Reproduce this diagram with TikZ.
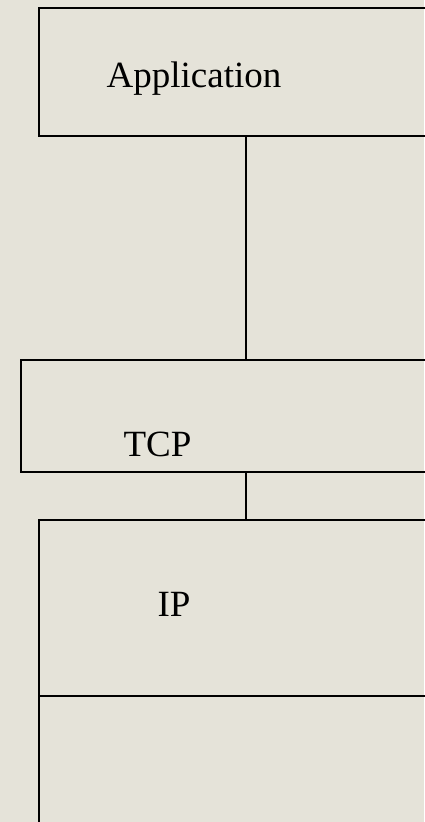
\documentclass[tikz,border=0pt]{standalone}
\usepackage{fontspec}
\setmainfont{Liberation Serif}
\definecolor{paper}{RGB}{229,227,217}
\tikzset{
  layer/.style={draw=black,line width=1.6pt,fill=none,inner sep=0pt,anchor=north west,minimum width=430pt},
  layertext/.style={anchor=base,inner sep=0pt,font=\fontsize{37}{40}\selectfont}
}
\begin{document}
\begin{tikzpicture}[x=1pt,y=-1pt]
\fill [paper] (0,0) rectangle (424,822);
\useasboundingbox (0,0) rectangle (424,822);
% the stack
\node [layer,minimum height=128pt] (app) at (38,7) {};
\node [layer,minimum height=112pt] (tcp) at (20.3,359.3) {};
\node [layer,minimum height=176pt] (ip) at (38,519.3) {};
\node [layer,minimum height=160pt] (link) at (38,695.3) {};
\node [layertext] (apptext) at (194,87) {Application};
\node [layertext] (tcptext) at (157.5,456) {TCP};
\node [layertext] (iptext) at (174,616) {IP};
% joins
\coordinate (mid) at (246,0);
\draw [line width=1.6pt] (app.south -| mid) -- (tcp.north -| mid);
\draw [line width=1.6pt] (tcp.south -| mid) -- (ip.north -| mid);
\end{tikzpicture}
\end{document}
